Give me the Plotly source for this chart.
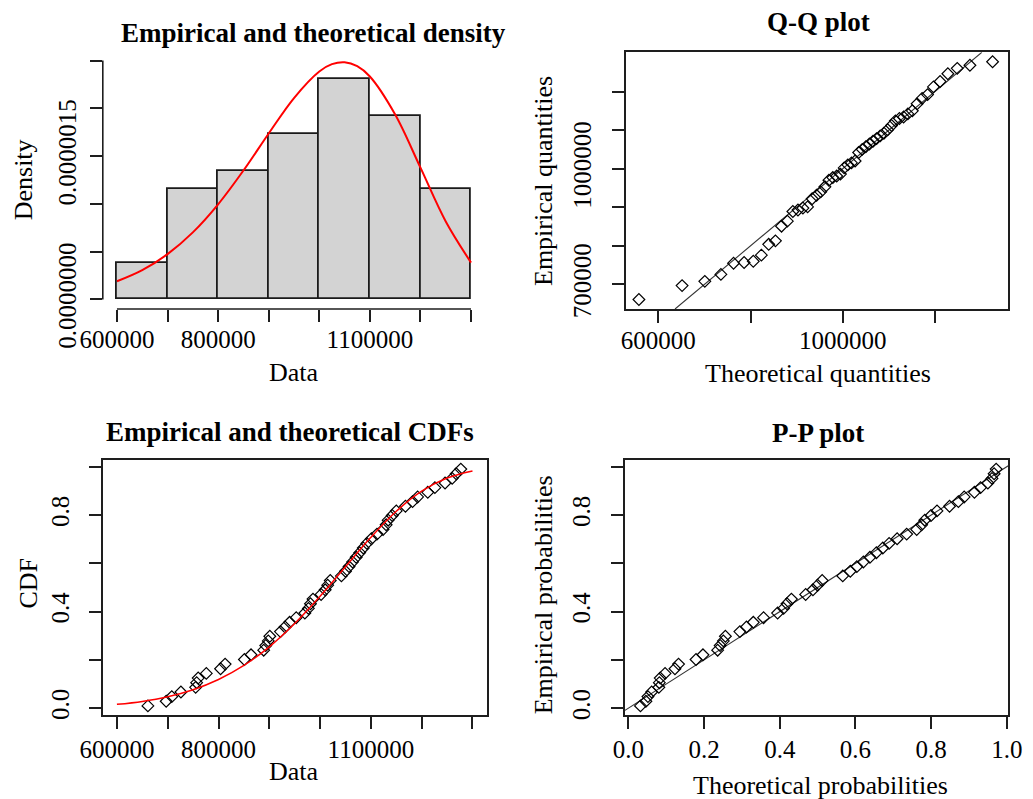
import plotly.graph_objects as go

# ---------------- data ----------------
data_sorted = [661000, 697000, 708000, 726000, 755000, 757000, 760000, 776000,
               804000, 813000, 851000, 864000, 889000, 893000, 898000, 901000,
               922000, 931000, 940000, 953000, 970000, 977000, 981000, 986000,
               1002000, 1010000, 1015000, 1020000, 1042000, 1050000, 1057000, 1064000,
               1071000, 1078000, 1085000, 1092000, 1101000, 1112000, 1124000, 1130000,
               1134000, 1142000, 1150000, 1168000, 1182000, 1192000, 1212000, 1226000,
               1246000, 1260000, 1268000, 1277000]

emp_prob = [0.0096, 0.0288, 0.0481, 0.0673, 0.0865, 0.1058, 0.1250, 0.1442,
            0.1635, 0.1827, 0.2019, 0.2212, 0.2404, 0.2596, 0.2788, 0.2981,
            0.3173, 0.3365, 0.3558, 0.3750, 0.3942, 0.4135, 0.4327, 0.4519,
            0.4712, 0.4904, 0.5096, 0.5288, 0.5481, 0.5673, 0.5865, 0.6058,
            0.6250, 0.6442, 0.6635, 0.6827, 0.7019, 0.7212, 0.7404, 0.7596,
            0.7788, 0.7981, 0.8173, 0.8365, 0.8558, 0.8750, 0.8942, 0.9135,
            0.9327, 0.9519, 0.9712, 0.9904]

theo_quant = [558000, 651600, 700900, 735800, 763200, 786100, 806000, 823500,
              839400, 854000, 867300, 879900, 891800, 902900, 913600, 923800,
              933700, 943200, 952300, 961300, 970000, 978500, 986900, 995000,
              1003100, 1011100, 1018900, 1026800, 1034500, 1042300, 1050100, 1057800,
              1065600, 1073400, 1081300, 1089300, 1097400, 1105800, 1114200, 1122900,
              1131900, 1141200, 1150900, 1161200, 1172100, 1183900, 1196700, 1211100,
              1227900, 1248300, 1275800, 1324900]

theo_prob = [0.0319, 0.0462, 0.0516, 0.0614, 0.0804, 0.0818, 0.0841, 0.0969,
             0.1230, 0.1325, 0.1787, 0.1970, 0.2359, 0.2425, 0.2510, 0.2563,
             0.2946, 0.3120, 0.3301, 0.3572, 0.3943, 0.4101, 0.4191, 0.4308,
             0.4685, 0.4877, 0.4999, 0.5121, 0.5665, 0.5864, 0.6037, 0.6210,
             0.6383, 0.6554, 0.6723, 0.6890, 0.7102, 0.7354, 0.7620, 0.7749,
             0.7833, 0.7997, 0.8156, 0.8487, 0.8721, 0.8874, 0.9145, 0.9307,
             0.9500, 0.9610, 0.9665, 0.9719]

dens_x = [600000, 650000, 700000, 750000, 800000, 850000, 900000, 950000, 1000000,
          1025000, 1050000, 1075000, 1100000, 1150000, 1200000, 1250000, 1300000]
dens_y = [0.1901e-6, 0.3067e-6, 0.4742e-6, 0.7020e-6, 0.9958e-6, 1.3491e-6, 1.7369e-6,
          2.1079e-6, 2.3858e-6, 2.4621e-6, 2.4826e-6, 2.4410e-6, 2.3330e-6, 1.9352e-6,
          1.3790e-6, 0.8162e-6, 0.3856e-6]

cdf_x = [600000, 650000, 700000, 750000, 800000, 850000, 900000, 950000, 1000000,
         1050000, 1100000, 1150000, 1200000, 1250000, 1300000]
cdf_y = [0.0161, 0.0283, 0.0477, 0.0768, 0.1190, 0.1774, 0.2544, 0.3508, 0.4637,
         0.5864, 0.7079, 0.8156, 0.8988, 0.9534, 0.9827]

hist_start, hist_end, hist_size = 600000, 1300000, 100000

data_ticks = [600000, 700000, 800000, 900000, 1000000, 1100000, 1200000, 1300000]
data_ticktext = ["600000", "", "800000", "", "", "1100000", "", ""]
dens_ticks = [0, 0.5e-6, 1.0e-6, 1.5e-6, 2.0e-6, 2.5e-6]
dens_ticktext = ["0.0000000", "", "", "0.0000015", "", ""]
qq_xticks = [600000, 800000, 1000000, 1200000]
qq_xticktext = ["600000", "", "1000000", ""]
qq_yticks = [700000, 800000, 900000, 1000000, 1100000, 1200000]
qq_yticktext = ["700000", "", "", "1000000", "", ""]
prob_ticks = [0.0, 0.2, 0.4, 0.6, 0.8, 1.0]
prob_ticktext_sparse = ["0.0", "", "0.4", "", "0.8", ""]
prob_ticktext_full = ["0.0", "0.2", "0.4", "0.6", "0.8", "1.0"]

# ---------------- layout geometry ----------------
W, H = 1033, 799
FONT = "Liberation Serif"
AX = "#1e1e1e"


def xd(a, b):
    return [a / W, b / W]


def yd(top, bottom):
    return [1 - bottom / H, 1 - top / H]


x1r = [572000, 1328000]
y1r = [-0.1e-6, 2.6e-6]
x2r = [530000, 1359000]
y2r = [636400, 1301600]
x3r = [572000, 1328000]
y3r = [-0.028, 1.028]
x4r = [-0.009, 1.004]
y4r = [-0.028, 1.028]

fig = go.Figure()

marker_style = dict(symbol="diamond-open", size=9, color="black", line=dict(width=1.2, color="black"))

# Panel 1: histogram + density
fig.add_trace(go.Histogram(
    x=data_sorted, xbins=dict(start=hist_start, end=hist_end, size=hist_size),
    histnorm="probability density",
    marker=dict(color="#d3d3d3", line=dict(color="#1a1a1a", width=1.8)),
    xaxis="x", yaxis="y", showlegend=False))
fig.add_trace(go.Scatter(x=dens_x, y=dens_y, mode="lines",
                         line=dict(color="#ff0000", width=2, shape="spline"),
                         xaxis="x", yaxis="y", showlegend=False))

# Panel 2: Q-Q
qq_lo = max(x2r[0], y2r[0])
qq_hi = min(x2r[1], y2r[1])
fig.add_trace(go.Scatter(x=[qq_lo, qq_hi], y=[qq_lo, qq_hi], mode="lines",
                         line=dict(color="#333333", width=1.1),
                         xaxis="x2", yaxis="y2", showlegend=False))
fig.add_trace(go.Scatter(x=theo_quant, y=data_sorted, mode="markers", marker=marker_style,
                         xaxis="x2", yaxis="y2", showlegend=False))

# Panel 3: CDFs
fig.add_trace(go.Scatter(x=data_sorted, y=emp_prob, mode="markers", marker=marker_style,
                         xaxis="x3", yaxis="y3", showlegend=False))
fig.add_trace(go.Scatter(x=cdf_x, y=cdf_y, mode="lines",
                         line=dict(color="#ff0000", width=1.5, shape="spline"),
                         xaxis="x3", yaxis="y3", showlegend=False))

# Panel 4: P-P
pp_lo = max(x4r[0], y4r[0])
pp_hi = min(x4r[1], y4r[1])
fig.add_trace(go.Scatter(x=[pp_lo, pp_hi], y=[pp_lo, pp_hi], mode="lines",
                         line=dict(color="#333333", width=1.1),
                         xaxis="x4", yaxis="y4", showlegend=False))
fig.add_trace(go.Scatter(x=theo_prob, y=emp_prob, mode="markers", marker=marker_style,
                         xaxis="x4", yaxis="y4", showlegend=False))

tickfont = dict(family=FONT, size=25, color="black")


def xaxis(domain, rng, tv, tt, anchor, box=True, standoff=-4):
    return dict(domain=domain, range=rng, tickvals=tv, ticktext=tt, anchor=anchor,
                ticks="outside", ticklen=12, tickwidth=1.5, tickcolor=AX,
                showline=box, mirror=box, linecolor=AX, linewidth=1.6,
                showgrid=False, zeroline=False, tickfont=tickfont, automargin=False,
                ticklabelstandoff=standoff, ticklabeloverflow="allow", fixedrange=True)


def yaxis(domain, rng, tv, tt, anchor, box=True, standoff=10):
    return dict(domain=domain, range=rng, tickvals=tv, ticktext=tt, anchor=anchor,
                ticks="outside", ticklen=12, tickwidth=1.5, tickcolor=AX,
                showline=box, mirror=box, linecolor=AX, linewidth=1.6,
                showgrid=False, zeroline=False, tickfont=tickfont, tickangle=-90,
                automargin=False,
                ticklabelstandoff=standoff, ticklabeloverflow="allow", fixedrange=True)


layout = dict(
    width=W, height=H, autosize=False,
    margin=dict(l=0, r=0, t=0, b=0, pad=0, autoexpand=False),
    paper_bgcolor="white", plot_bgcolor="white",
    bargap=0, showlegend=False,
    font=dict(family=FONT, color="black"),
    xaxis=xaxis(xd(102.8, 485.2), x1r, data_ticks, data_ticktext, "y", box=False, standoff=-4),
    yaxis=yaxis(yd(51, 309), y1r, dens_ticks, dens_ticktext, "x", box=False, standoff=4),
    xaxis2=xaxis(xd(626, 1008.3), x2r, qq_xticks, qq_xticktext, "y2", standoff=-4),
    yaxis2=yaxis(yd(52.3, 309), y2r, qq_yticks, qq_yticktext, "x2", standoff=11),
    xaxis3=xaxis(xd(102.7, 486.7), x3r, data_ticks, data_ticktext, "y3", standoff=-1),
    yaxis3=yaxis(yd(460, 715), y3r, prob_ticks, prob_ticktext_sparse, "x3", standoff=10),
    xaxis4=xaxis(xd(625, 1008.3), x4r, prob_ticks, prob_ticktext_full, "y4", standoff=-1),
    yaxis4=yaxis(yd(460, 715), y4r, prob_ticks, prob_ticktext_sparse, "x4", standoff=11),
)
fig.update_layout(**layout)

# panel 1 axis lines spanning only the tick range (R style, no box)
fig.add_shape(type="line", xref="x", yref="y domain", x0=min(data_ticks), x1=max(data_ticks),
              y0=0, y1=0, line=dict(color=AX, width=1.6))
fig.add_shape(type="line", xref="x domain", yref="y", x0=0, x1=0,
              y0=min(dens_ticks), y1=max(dens_ticks), line=dict(color=AX, width=1.6))


def ann(text, px, py, size=26, bold=False, angle=0):
    t = "<b>%s</b>" % text if bold else text
    fig.add_annotation(text=t, x=px / W, y=1 - py / H, xref="paper", yref="paper",
                       xanchor="center", yanchor="middle", showarrow=False,
                       textangle=angle, font=dict(family=FONT, size=size, color="black"))


# main titles
ann("Empirical and theoretical density", 313, 33, size=27, bold=True)
ann("Q-Q plot", 818, 21.7, size=27, bold=True)
ann("Empirical and theoretical CDFs", 289.7, 431.7, size=27, bold=True)
ann("P-P plot", 818.3, 433.3, size=27, bold=True)

# axis titles
ann("Data", 293.5, 372.7)
ann("Density", 23.3, 180, angle=-90)
ann("Theoretical quantities", 818, 373.3)
ann("Empirical quantities", 543.3, 180.7, angle=-90)
ann("Data", 294, 771.7)
ann("CDF", 28.3, 583.3, angle=-90)
ann("Theoretical probabilities", 820, 785)
ann("Empirical probabilities", 543.3, 595, angle=-90)

fig.write_html("out.html")
